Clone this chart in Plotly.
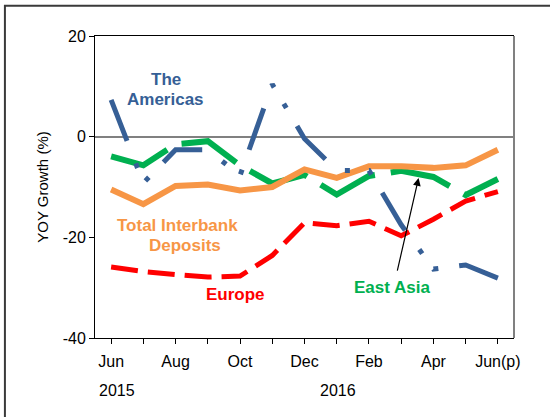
import plotly.graph_objects as go

# Monthly YOY growth of interbank deposits, Jun 2015 - Jun 2016 (p)
months = ["Jun", "Jul", "Aug", "Sep", "Oct", "Nov", "Dec",
          "Jan", "Feb", "Mar", "Apr", "May", "Jun(p)"]
tick_labels = ["Jun", "", "Aug", "", "Oct", "", "Dec",
               "", "Feb", "", "Apr", "", "Jun(p)"]

europe = [-25.9, -26.8, -27.4, -27.9, -27.7, -23.6, -17.1,
          -17.7, -16.8, -19.7, -16.4, -12.8, -10.9]
east_asia = [-3.9, -5.7, -1.5, -0.9, -5.7, -9.3, -7.6,
             -11.5, -7.8, -6.8, -8.0, -11.6, -8.4]
total_interbank = [-10.5, -13.4, -9.8, -9.5, -10.7, -10.0, -6.5,
                   -8.2, -5.9, -5.9, -6.2, -5.7, -2.6]
americas = [7.3, -9.2, -2.6, -2.6, -7.7, 10.4, -0.4,
            -6.7, -6.7, -17.5, -26.3, -25.5, -28.1]

y_ticks = [-40, -20, 0, 20]

BLUE = "#365F96"
GREEN = "#00B050"
ORANGE = "#F79646"
RED = "#FF0000"
FONT = "Liberation Sans, Arial, sans-serif"

x = list(range(len(months)))

fig = go.Figure()

# draw order: red, green, orange, blue on top
fig.add_trace(go.Scatter(x=x, y=europe, mode="lines", name="Europe",
                         line=dict(color=RED, width=5, dash="27px,10px")))
fig.add_trace(go.Scatter(x=x, y=east_asia, mode="lines", name="East Asia",
                         line=dict(color=GREEN, width=6, dash="62px,16px")))
fig.add_trace(go.Scatter(x=x, y=total_interbank, mode="lines", name="Total Interbank Deposits",
                         line=dict(color=ORANGE, width=6)))
fig.add_trace(go.Scatter(x=x, y=americas, mode="lines", name="The Americas",
                         line=dict(color=BLUE, width=5,
                                   dash="44px,24px,5px,19px,5px,21px")))

# series labels
label_font = dict(family=FONT, size=17)
labels = [
    ("The", 1.7, 11.3, BLUE),
    ("Americas", 1.7, 7.4, BLUE),
    ("Total Interbank", 2.05, -17.7, ORANGE),
    ("Deposits", 2.3, -21.6, ORANGE),
    ("Europe", 3.85, -31.3, RED),
    ("East Asia", 8.7, -30.0, GREEN),
]
for txt, lx, ly, col in labels:
    fig.add_annotation(x=lx, y=ly, text="<b>%s</b>" % txt, showarrow=False,
                       font=dict(label_font, color=col), xanchor="center", yanchor="middle")

# arrow pointing at East Asia line
fig.add_annotation(x=9.54, y=-8.2, ax=8.87, ay=-26.9, axref="x", ayref="y",
                   text="", showarrow=True, arrowhead=2, arrowsize=1.3,
                   arrowwidth=1.2, arrowcolor="black", standoff=0)

# year labels under the month ticks
for yr, yx in [("2015", 0.17), ("2016", 7.05)]:
    fig.add_annotation(x=yx, y=-0.175, xref="x", yref="paper", text=yr,
                       showarrow=False, xanchor="center", yanchor="middle",
                       font=dict(family=FONT, size=16, color="black"))

# plot-area right border (gray) and outer chart frame (cut off at right/bottom)
fig.add_shape(type="line", xref="paper", yref="paper", x0=1, x1=1, y0=0, y1=1,
              line=dict(color="#808080", width=2))
fig.add_shape(type="rect", xref="paper", yref="paper", x0=-0.215, x1=1.2, y0=-0.4, y1=1.1,
              line=dict(color="#3a3a3a", width=2), fillcolor="rgba(0,0,0,0)")

fig.update_layout(
    width=550, height=417,
    margin=dict(l=95, r=36, t=36, b=79),
    paper_bgcolor="white", plot_bgcolor="white",
    showlegend=False,
    font=dict(family=FONT, size=16, color="black"),
    xaxis=dict(range=[-0.5, 12.5], tickvals=x, ticktext=tick_labels,
               ticks="outside", ticklen=5, tickcolor="black", tickwidth=1,
               showline=True, linecolor="black", linewidth=1, mirror=True,
               showgrid=False, zeroline=False, ticklabelstandoff=4),
    yaxis=dict(range=[-40, 20], tickvals=y_ticks, ticktext=[str(v) for v in y_ticks],
               ticks="outside", ticklen=5, tickcolor="black", tickwidth=1,
               showline=True, linecolor="black", linewidth=1,
               showgrid=False, zeroline=True, zerolinecolor="#808080", zerolinewidth=2,
               title=dict(text="YOY Growth (%)", font=dict(family=FONT, size=15), standoff=10)),
    # overlay axes give the ticks that cross the axis lines
    xaxis2=dict(overlaying="x", range=[-0.5, 12.5], tickvals=x, ticks="inside", ticklen=4,
                tickcolor="black", showticklabels=False, showgrid=False, zeroline=False,
                showline=False),
    yaxis2=dict(overlaying="y", range=[-40, 20], tickvals=y_ticks, ticks="inside", ticklen=5,
                tickcolor="black", showticklabels=False, showgrid=False, zeroline=False,
                showline=False, side="left"),
)

# the page's default body margin would shift the chart by 8px
fig.write_html("out.html", config={"displayModeBar": False},
               post_script="document.body.style.margin='0';")
